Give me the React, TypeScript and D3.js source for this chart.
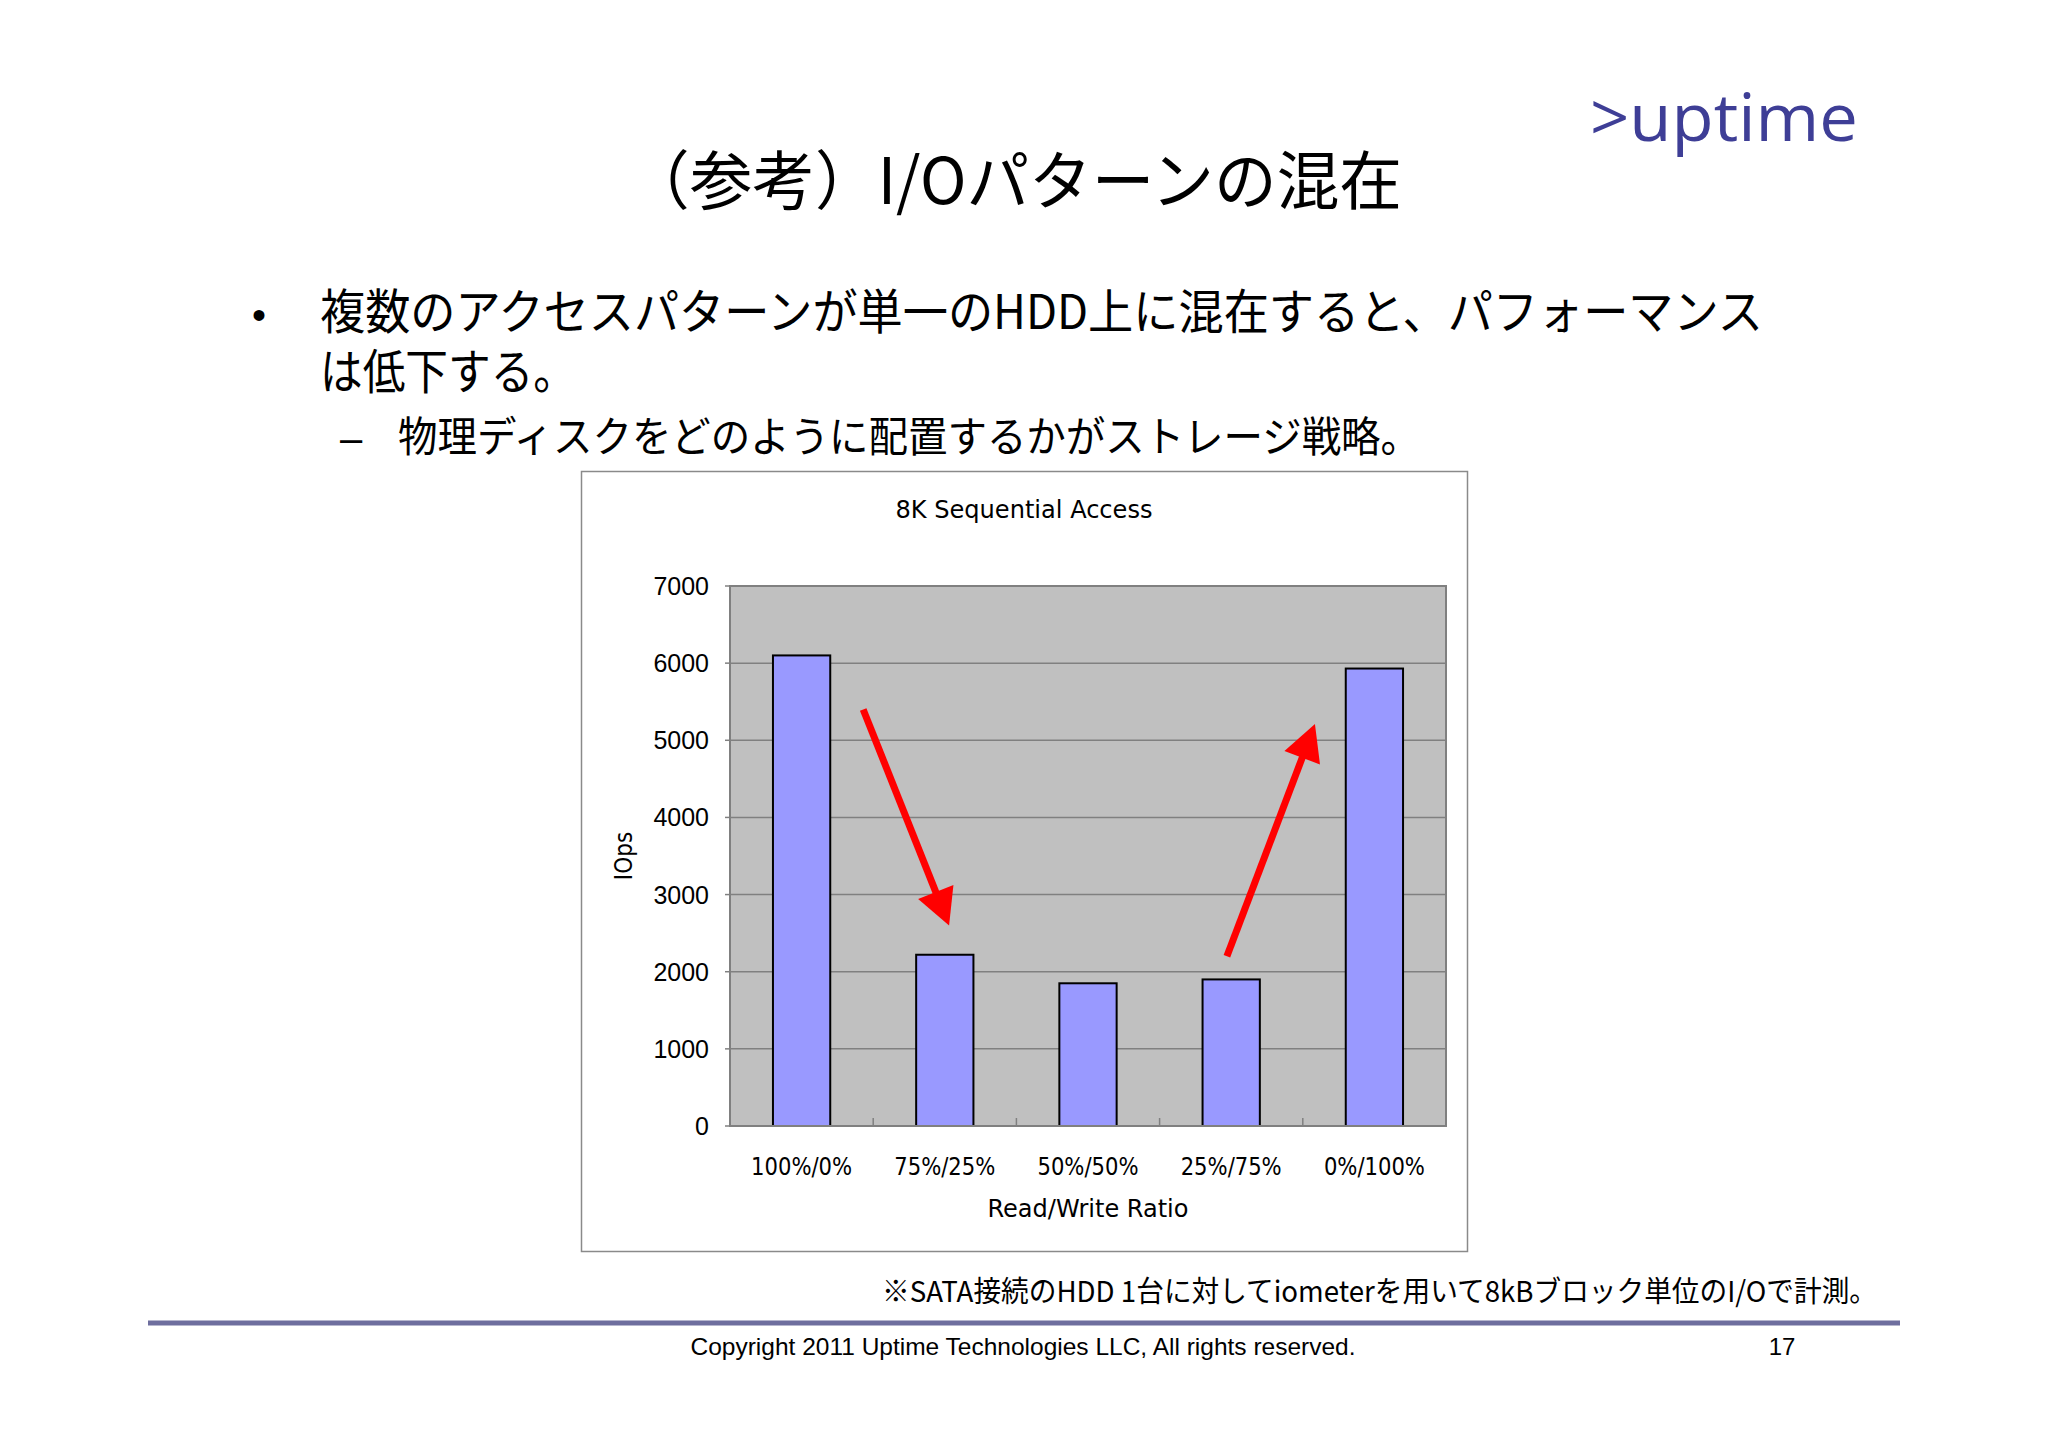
import React from "react";
import * as d3 from "d3";

const categories = ["100%/0%", "75%/25%", "50%/50%", "25%/75%", "0%/100%"];
const iops = [6100, 2220, 1850, 1900, 5930];
const yTicks = [0, 1000, 2000, 3000, 4000, 5000, 6000, 7000];
// arrows in (category-units, value) coordinates
const arrows = [
  { x1: 0.93, y1: 5400, x2: 1.53, y2: 2600 },
  { x1: 3.47, y1: 2200, x2: 4.085, y2: 5210 },
];

const W = 2048;
const H = 1448;
const plot = { left: 730, right: 1446, top: 586, bottom: 1126 };

const jp = "'Noto Sans CJK JP', sans-serif";
const narrow = "'Liberation Sans Narrow', 'DejaVu Sans Condensed', 'Noto Sans CJK JP', sans-serif";
const arial = "'Liberation Sans', Arial, sans-serif";

export default function App() {
  const x = d3.scaleBand<string>().domain(categories).range([plot.left, plot.right]).paddingInner(0.6).paddingOuter(0.3);
  const xb = d3.scaleBand<string>().domain(categories).range([plot.left, plot.right]);
  const xu = d3.scaleLinear().domain([0, categories.length]).range([plot.left, plot.right]);
  const y = d3.scaleLinear().domain([0, 7000]).range([plot.bottom, plot.top]);

  const arrowEls = arrows.map((a, i) => {
    const sx = xu(a.x1), sy = y(a.y1), ex = xu(a.x2), ey = y(a.y2);
    const dx = ex - sx, dy = ey - sy;
    const len = Math.hypot(dx, dy);
    const ux = dx / len, uy = dy / len;
    const hl = 36, hw = 19;
    const bx = ex - ux * hl, by = ey - uy * hl;
    const p1 = [bx - uy * hw, by + ux * hw];
    const p2 = [bx + uy * hw, by - ux * hw];
    return (
      <g key={i}>
        <line x1={sx} y1={sy} x2={bx + ux * 2} y2={by + uy * 2} stroke="#ff0000" strokeWidth={7} />
        <polygon points={`${ex},${ey} ${p1[0]},${p1[1]} ${p2[0]},${p2[1]}`} fill="#ff0000" />
      </g>
    );
  });

  return (
    <svg width={W} height={H} style={{ position: "absolute", left: 0, top: 0, background: "#fff" }}>
      <rect x={0} y={0} width={W} height={H} fill="#ffffff" />
      {/* logo */}
      <text x={1590} y={141} fontFamily="'Open Sans', sans-serif" fontSize={66} fill="#3e3e96" textLength={268} lengthAdjust="spacingAndGlyphs">&gt;uptime</text>
      {/* title */}
      <text x={627} y={204} fontFamily={jp} fontSize={64} fill="#000" textLength={775} lengthAdjust="spacingAndGlyphs">（参考）I/Oパターンの混在</text>
      {/* bullets */}
      <text x={252} y={329} fontFamily={arial} fontSize={40} fill="#000">•</text>
      <text x={320} y={329} fontFamily={jp} fontSize={48} fill="#000" textLength={1443} lengthAdjust="spacingAndGlyphs">複数のアクセスパターンが単一のHDD上に混在すると、パフォーマンス</text>
      <text x={320} y={389} fontFamily={jp} fontSize={48} fill="#000" textLength={256} lengthAdjust="spacingAndGlyphs">は低下する。</text>
      <text x={340} y={452} fontFamily={arial} fontSize={40} fill="#000">–</text>
      <text x={398} y={452} fontFamily={jp} fontSize={42} fill="#000" textLength={1022} lengthAdjust="spacingAndGlyphs">物理ディスクをどのように配置するかがストレージ戦略。</text>

      {/* chart box */}
      <rect x={581.5} y={471.5} width={886} height={780} fill="#fff" stroke="#8a8a8a" strokeWidth={1.5} />
      <text x={1024} y={518} textAnchor="middle" fontFamily={narrow} fontSize={25} fill="#000" textLength={257} lengthAdjust="spacingAndGlyphs">8K Sequential Access</text>

      {/* plot area */}
      <rect x={plot.left} y={plot.top} width={plot.right - plot.left} height={plot.bottom - plot.top} fill="#c0c0c0" />
      {yTicks.filter((t) => t > 0).map((t) => (
        <line key={t} x1={plot.left} x2={plot.right} y1={y(t)} y2={y(t)} stroke="#808080" strokeWidth={1.5} />
      ))}
      <rect x={plot.left} y={plot.top} width={plot.right - plot.left} height={plot.bottom - plot.top} fill="none" stroke="#808080" strokeWidth={2} />
      {yTicks.map((t) => (
        <g key={t}>
          <line x1={plot.left - 5} x2={plot.left} y1={y(t)} y2={y(t)} stroke="#808080" strokeWidth={1.5} />
          <text x={709} y={y(t) + 9} textAnchor="end" fontFamily={arial} fontSize={25} fill="#000">{t}</text>
        </g>
      ))}
      {categories.slice(1).map((c) => (
        <line key={c} x1={xb(c)} x2={xb(c)} y1={plot.bottom} y2={plot.bottom - 8} stroke="#808080" strokeWidth={1.5} />
      ))}
      {categories.map((c, i) => (
        <rect key={c} x={x(c)} y={y(iops[i])} width={x.bandwidth()} height={plot.bottom - y(iops[i])} fill="#9999ff" stroke="#000" strokeWidth={2} />
      ))}
      <line x1={plot.left} x2={plot.right} y1={plot.bottom} y2={plot.bottom} stroke="#808080" strokeWidth={2} />
      {categories.map((c) => (
        <text key={c} x={(xb(c) as number) + xb.bandwidth() / 2} y={1175} textAnchor="middle" fontFamily={narrow} fontSize={25} fill="#000" textLength={101} lengthAdjust="spacingAndGlyphs">{c}</text>
      ))}
      <text x={1088} y={1217} textAnchor="middle" fontFamily={narrow} fontSize={25} fill="#000" textLength={201} lengthAdjust="spacingAndGlyphs">Read/Write Ratio</text>
      <text transform={`translate(632,856) rotate(-90)`} textAnchor="middle" fontFamily={narrow} fontSize={24} fill="#000">IOps</text>

      {arrowEls}

      {/* footnote */}
      <text x={882} y={1302} fontFamily={jp} fontSize={29} fill="#000" textLength={995} lengthAdjust="spacingAndGlyphs">※SATA接続のHDD 1台に対してiometerを用いて8kBブロック単位のI/Oで計測。</text>
      <line x1={148} x2={1900} y1={1323} y2={1323} stroke="#6e6e9e" strokeWidth={5} />
      <text x={1023} y={1355} textAnchor="middle" fontFamily={arial} fontSize={24.5} fill="#000">Copyright 2011 Uptime Technologies LLC, All rights reserved.</text>
      <text x={1782} y={1355} textAnchor="middle" fontFamily={arial} fontSize={24} fill="#000">17</text>
    </svg>
  );
}
